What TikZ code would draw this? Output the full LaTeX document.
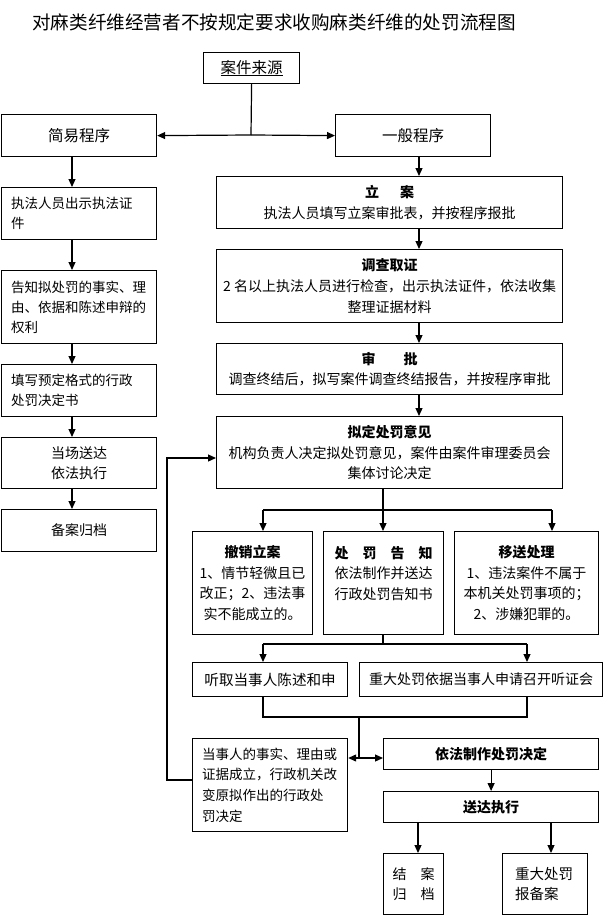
\documentclass[tikz,border=0pt]{standalone}
\usepackage{fontspec}
\setmainfont{Noto Sans CJK SC}
\usetikzlibrary{arrows.meta}

\begin{document}
\begin{tikzpicture}
[x=1pt,y=-1pt,
  boxdecorate/.style={draw,line width=1.2pt,anchor=north west,inner sep=0pt,align=center,%
    font=\fontsize{14pt}{20.7pt}\selectfont},%
  leftdecorate/.style={boxdecorate,align=left,font=\fontsize{13.5pt}{20pt}\selectfont},%
  linedecorate/.style={-,line width=1.2pt},%
  arrowdecorate/.style={line width=1.2pt,-{Triangle[width=7pt,length=8pt]}}]
\useasboundingbox (0,0) rectangle (612,915);
%% title
\node (title) at (32,22) [anchor=west,inner sep=0pt,font=\fontsize{18.6pt}{20pt}\selectfont]
  {对麻类纤维经营者不按规定要求收购麻类纤维的处罚流程图};
%% nodes or boxes
\node (src) at (203,52) [boxdecorate,minimum width=96pt,minimum height=31pt,font=\fontsize{15.5pt}{18pt}\selectfont] {\underline{案件来源}};
\node (jianyi) at (1,114) [boxdecorate,minimum width=155pt,minimum height=42pt,font=\fontsize{15.5pt}{18pt}\selectfont] {简易程序};
\node (yiban) at (335,114) [boxdecorate,minimum width=155pt,minimum height=42pt,font=\fontsize{15.5pt}{18pt}\selectfont] {一般程序};
% left column
\node (L1) at (1,187) [leftdecorate,minimum width=155pt,minimum height=52pt,text width=136pt] {执法人员出示执法证\\件};
\node (L2) at (1,270) [leftdecorate,minimum width=155pt,minimum height=73pt,text width=136pt] {告知拟处罚的事实、理\\由、依据和陈述申辩的\\权利};
\node (L3) at (1,364) [leftdecorate,minimum width=155pt,minimum height=52pt,text width=136pt] {填写预定格式的行政\\处罚决定书};
\node (L4) at (1,437) [boxdecorate,minimum width=155pt,minimum height=51pt] {当场送达\\依法执行};
\node (L5) at (1,509) [boxdecorate,minimum width=155pt,minimum height=42pt] {备案归档};
% right column
\node (lian) at (216,176) [boxdecorate,minimum width=346pt,minimum height=52pt] {{\bfseries 立\hspace{1.5em}案}\\执法人员填写立案审批表，并按程序报批};
\node (diaocha) at (216,249) [boxdecorate,minimum width=346pt,minimum height=73pt] {{\bfseries 调查取证}\\2 名以上执法人员进行检查，出示执法证件，依法收集\\整理证据材料};
\node (shenpi) at (216,343) [boxdecorate,minimum width=346pt,minimum height=51pt] {{\bfseries 审\hspace{2em}批}\\调查终结后，拟写案件调查终结报告，并按程序审批};
\node (niding) at (216,416) [boxdecorate,minimum width=346pt,minimum height=72pt] {{\bfseries 拟定处罚意见}\\机构负责人决定拟处罚意见，案件由案件审理委员会\\集体讨论决定};
\node (chexiao) at (192,531) [boxdecorate,minimum width=120pt,minimum height=103pt] {{\bfseries 撤销立案}\\1、情节轻微且已\\改正；2、违法事\\实不能成立的。};
\node (gaozhi) at (323,531) [boxdecorate,minimum width=120pt,minimum height=103pt] {{\bfseries 处\hspace{1em}罚\hspace{1em}告\hspace{1em}知}\\依法制作并送达\\行政处罚告知书\\\mbox{}};
\node (yisong) at (454,531) [boxdecorate,minimum width=144pt,minimum height=103pt] {{\bfseries 移送处理}\\1、违法案件不属于\\本机关处罚事项的；\\2、涉嫌犯罪的。};
\node (tingqu) at (192,662) [boxdecorate,minimum width=155pt,minimum height=34pt,font=\fontsize{14.6pt}{18pt}\selectfont] {听取当事人陈述和申};
\node (zhongda) at (359,662) [boxdecorate,minimum width=243pt,minimum height=34pt] {重大处罚依据当事人申请召开听证会};
\node (dangshi) at (192,738) [leftdecorate,minimum width=155pt,minimum height=93pt,text width=136pt,font=\fontsize{13.5pt}{20.7pt}\selectfont] {当事人的事实、理由或\\证据成立，行政机关改\\变原拟作出的行政处\\罚决定};
\node (zhizuo) at (383,738) [boxdecorate,minimum width=215pt,minimum height=31pt] {{\bfseries 依法制作处罚决定}};
\node (songda) at (383,791) [boxdecorate,minimum width=215pt,minimum height=31pt] {{\bfseries 送达执行}};
\node (jiean) at (383,853) [boxdecorate,minimum width=60pt,minimum height=61pt] {结\hspace{1em}案\\归\hspace{1em}档};
\node (baobei) at (502,853) [leftdecorate,minimum width=85pt,minimum height=61pt,text width=60pt,font=\fontsize{14.5pt}{20.7pt}\selectfont] {重大处罚\\报备案};
%% helper points
\coordinate (split) at (251,135);
\coordinate (lx) at (72,0);
\coordinate (rx) at (419,0);
\coordinate (fork1) at (383,510);
\coordinate (fork1l) at (263,510);
\coordinate (fork1r) at (552,510);
\coordinate (fork2) at (383,644);
\coordinate (fork2l) at (263,644);
\coordinate (fork2r) at (527,644);
\coordinate (join) at (359,717);
\coordinate (mid) at (359,758);
\coordinate (back) at (167,780);
\coordinate (backtop) at (167,458);
\coordinate (bx1) at (418,0);
\coordinate (bx2) at (551,0);
%% edges or lines
\draw[linedecorate] (src.south) -- (split);
\draw[arrowdecorate] (split) -- (jianyi.east);
\draw[arrowdecorate] (split) -- (yiban.west);
\foreach \startnode/\endnode in {jianyi/L1, L1/L2, L2/L3, L3/L4, L4/L5} {
  \draw[arrowdecorate] (\startnode.south -| lx) -- (\endnode.north -| lx);
}
\foreach \startnode/\endnode in {yiban/lian, lian/diaocha, diaocha/shenpi, shenpi/niding} {
  \draw[arrowdecorate] (\startnode.south -| rx) -- (\endnode.north -| rx);
}
\draw[linedecorate] (niding.south -| fork1) -- (fork1);
\draw[linedecorate] (fork1l) -- (fork1r);
\draw[arrowdecorate] (fork1l) -- (chexiao.north -| fork1l);
\draw[arrowdecorate] (fork1) -- (gaozhi.north -| fork1);
\draw[arrowdecorate] (fork1r) -- (yisong.north -| fork1r);
\draw[linedecorate] (gaozhi.south -| fork2) -- (fork2);
\draw[linedecorate] (fork2l) -- (fork2r);
\draw[arrowdecorate] (fork2l) -- (tingqu.north -| fork2l);
\draw[arrowdecorate] (fork2r) -- (zhongda.north -| fork2r);
\draw[linedecorate] (tingqu.south -| fork2l) -- (fork2l |- join) -- (fork2r |- join) -- (zhongda.south -| fork2r);
\draw[linedecorate] (join) -- (mid);
\draw[arrowdecorate] (mid) -- (dangshi.east |- mid);
\draw[arrowdecorate] (mid) -- (zhizuo.west |- mid);
\draw[arrowdecorate] (dangshi.west |- back) -- (back) -- (backtop) -- (niding.west |- backtop);
\draw[arrowdecorate] (zhizuo.south) -- (songda.north);
\draw[arrowdecorate] (songda.south -| bx1) -- (jiean.north -| bx1);
\draw[arrowdecorate] (songda.south -| bx2) -- (baobei.north -| bx2);
\end{tikzpicture}
\end{document}
